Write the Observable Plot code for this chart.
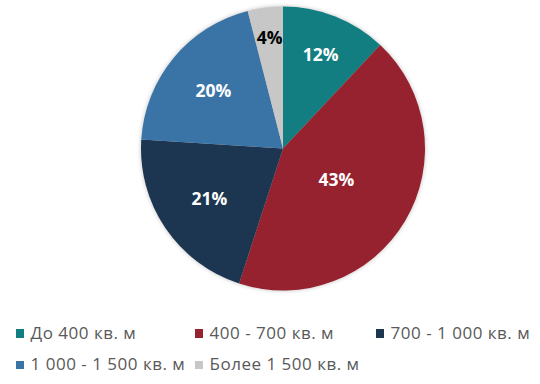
<!DOCTYPE html>
<html><head><meta charset="utf-8">
<script src="https://cdn.jsdelivr.net/npm/d3@7"></script>
<script src="https://cdn.jsdelivr.net/npm/@observablehq/plot@0.6"></script>
<style>
body{margin:0;background:#fff;width:540px;height:384px;overflow:hidden;font-family:"Open Sans",sans-serif}
#chart svg{display:block}
#legend{display:grid;grid-template-columns:179px 181px auto;padding-left:16px;padding-top:17.2px;color:#595959;font-size:17px;letter-spacing:0.5px;line-height:31.2px;white-space:nowrap}
#legend .sw{display:inline-block;width:7.6px;height:8.4px;margin-right:7px;margin-bottom:1.5px;vertical-align:baseline}
</style></head><body><div id="chart"></div><div id="legend"></div>
<script>
const categories = ["До 400 кв. м", "400 - 700 кв. м", "700 - 1 000 кв. м", "1 000 - 1 500 кв. м", "Более 1 500 кв. м"];
const values = [12, 43, 21, 20, 4];
const colors = ["#127E81", "#97222F", "#1C3550", "#3A74A7", "#C7C7C7"];
const labelColors = ["#ffffff", "#ffffff", "#ffffff", "#ffffff", "#000000"];

const data = categories.map((c, i) => ({category: c, value: values[i], labelColor: labelColors[i]}));
const arcs = d3.pie().sort(null).value(d => d.value)(data);
arcs.forEach(a => {
  const mid = (a.startAngle + a.endAngle) / 2;
  const k = 0.82 - 0.9 * a.data.value / 100;
  a.data.lx = k * Math.sin(mid);
  a.data.ly = k * Math.cos(mid);
});

const chart = Plot.plot({
  width: 540, height: 300,
  marginLeft: 141, marginRight: 115, marginTop: 6.5, marginBottom: 9.5,
  x: {domain: [-1, 1], axis: null},
  y: {domain: [-1, 1], axis: null},
  color: {domain: categories, range: colors},
  marks: [
    Plot.dot(arcs, {
      x: () => 0, y: () => 0, fill: d => d.data.category, r: 0,
      render: (index, scales, vals, dimensions, context) => {
        const cx = scales.x(0), cy = scales.y(0);
        const R = Math.abs(scales.x(1) - scales.x(0));
        const g = d3.create("svg:g")
          .attr("transform", `translate(${cx},${cy})`)
          .style("filter", "drop-shadow(0px 0px 2px rgba(0,0,0,0.25))");
        const arc = d3.arc().innerRadius(0).outerRadius(R);
        for (const i of index) {
          g.append("path").attr("d", arc(arcs[i])).attr("fill", vals.fill[i]);
        }
        return g.node();
      }
    }),
    Plot.text(arcs, {
      x: d => d.data.lx, y: d => d.data.ly,
      text: d => d.data.value + "%",
      fill: d => d.data.labelColor,
      fontSize: 17.5, fontWeight: "bold", fontFamily: "Open Sans"
    })
  ]
});
document.getElementById("chart").append(chart);

const legend = d3.select("#legend");
categories.forEach((c, i) => {
  const item = legend.append("div");
  item.append("span").attr("class", "sw").style("background", chart.scale("color").apply(c));
  item.append("span").text(c);
});
</script></body></html>
